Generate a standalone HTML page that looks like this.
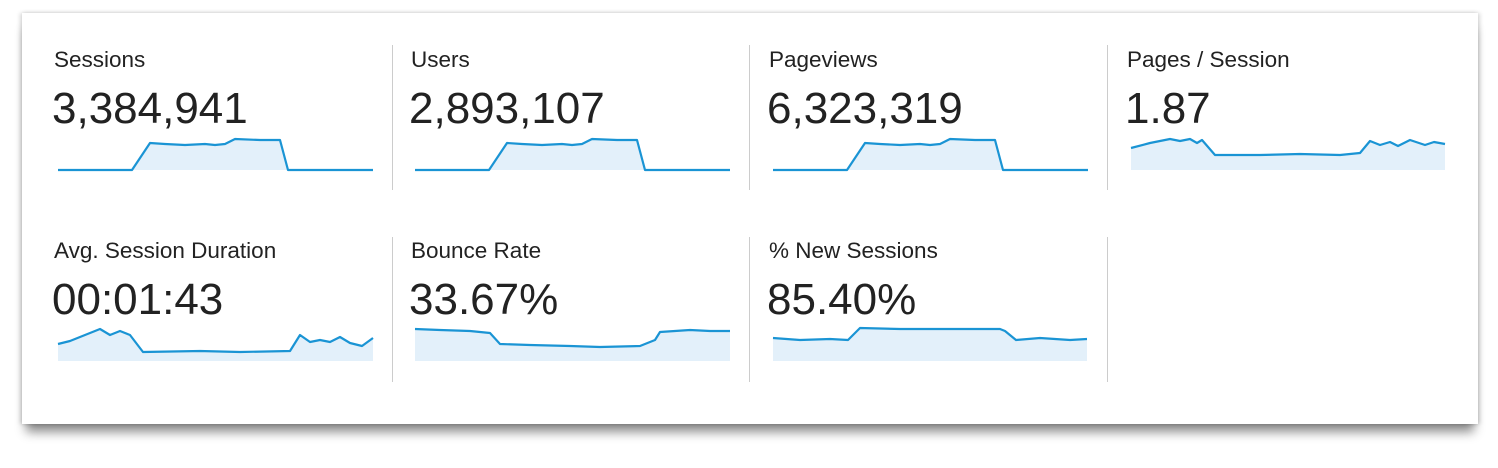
<!DOCTYPE html>
<html><head><style>
body{margin:0;width:1498px;height:468px;background:#fff;overflow:hidden;font-family:"Liberation Sans",sans-serif;}
.card{position:absolute;left:22px;top:13px;width:1456px;height:411px;background:#fff;box-shadow:0 12px 10px -4px rgba(0,0,0,0.45),-2px 0 4px rgba(0,0,0,0.15),2px 0 4px rgba(0,0,0,0.15);}
.lbl{position:absolute;font-size:22.5px;color:#222;}
.num{position:absolute;font-size:44px;color:#222;}
.div{position:absolute;width:1px;background:#ccc;}
</style></head><body>
<div class="card"></div>
<div class="div" style="left:392px;top:45px;height:145px"></div>
<div class="div" style="left:749px;top:45px;height:145px"></div>
<div class="div" style="left:1107px;top:45px;height:145px"></div>
<div class="div" style="left:392px;top:237px;height:145px"></div>
<div class="div" style="left:749px;top:237px;height:145px"></div>
<div class="div" style="left:1107px;top:237px;height:145px"></div>

<div class="lbl" style="left:54px;top:47px">Sessions</div>
<div class="num" style="left:52px;top:84px">3,384,941</div>
<div class="lbl" style="left:411px;top:47px">Users</div>
<div class="num" style="left:409px;top:84px">2,893,107</div>
<div class="lbl" style="left:769px;top:47px">Pageviews</div>
<div class="num" style="left:767px;top:84px">6,323,319</div>
<div class="lbl" style="left:1127px;top:47px">Pages / Session</div>
<div class="num" style="left:1125px;top:84px">1.87</div>
<div class="lbl" style="left:54px;top:238px">Avg. Session Duration</div>
<div class="num" style="left:52px;top:275px">00:01:43</div>
<div class="lbl" style="left:411px;top:238px">Bounce Rate</div>
<div class="num" style="left:409px;top:275px">33.67%</div>
<div class="lbl" style="left:769px;top:238px">% New Sessions</div>
<div class="num" style="left:767px;top:275px">85.40%</div>

<svg width="1498" height="468" style="position:absolute;left:0;top:0" fill="#e3f0fa" stroke="#1a94d4" stroke-width="2.2" stroke-linejoin="round">
<g id="a"><polygon stroke="none" points="58,170 132,170 150,143 165,144 185,145 205,144 215,145 225,144 235,139 260,140 280,140 288,170 373,170"/>
<polyline fill="none" points="58,170 132,170 150,143 165,144 185,145 205,144 215,145 225,144 235,139 260,140 280,140 288,170 373,170"/></g>
<use href="#a" x="357"/>
<use href="#a" x="715"/>
<g><polygon stroke="none" points="1131,170 1131,148 1150,143 1170,139 1180,141 1190,139 1197,143 1202,140 1215,155 1260,155 1300,154 1340,155 1360,153 1370,141 1380,145 1390,142 1398,146 1410,140 1425,145 1434,142 1445,144 1445,170"/>
<polyline fill="none" points="1131,148 1150,143 1170,139 1180,141 1190,139 1197,143 1202,140 1215,155 1260,155 1300,154 1340,155 1360,153 1370,141 1380,145 1390,142 1398,146 1410,140 1425,145 1434,142 1445,144"/></g>
<g><polygon stroke="none" points="58,361 58,344 70,341 85,335 100,329 110,335 120,331 130,335 143,352 200,351 240,352 290,351 300,335 310,342 320,340 330,342 340,337 350,343 362,346 373,338 373,361"/>
<polyline fill="none" points="58,344 70,341 85,335 100,329 110,335 120,331 130,335 143,352 200,351 240,352 290,351 300,335 310,342 320,340 330,342 340,337 350,343 362,346 373,338"/></g>
<g><polygon stroke="none" points="415,361 415,329 440,330 470,331 490,333 500,344 530,345 570,346 600,347 640,346 655,340 660,332 690,330 710,331 730,331 730,361"/>
<polyline fill="none" points="415,329 440,330 470,331 490,333 500,344 530,345 570,346 600,347 640,346 655,340 660,332 690,330 710,331 730,331"/></g>
<g><polygon stroke="none" points="773,361 773,338 800,340 830,339 848,340 860,328 900,329 960,329 1000,329 1005,331 1016,340 1040,338 1070,340 1087,339 1087,361"/>
<polyline fill="none" points="773,338 800,340 830,339 848,340 860,328 900,329 960,329 1000,329 1005,331 1016,340 1040,338 1070,340 1087,339"/></g>
</svg>
</body></html>
